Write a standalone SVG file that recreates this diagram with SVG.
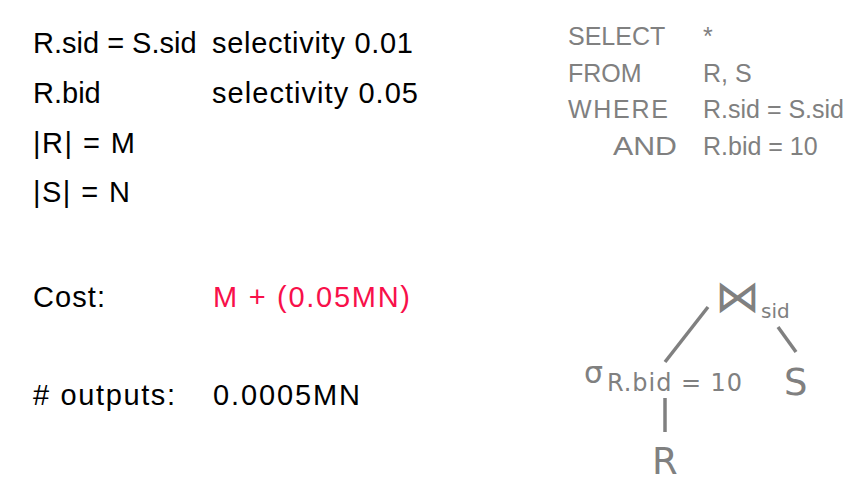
<svg xmlns="http://www.w3.org/2000/svg" width="859" height="499" viewBox="0 0 859 499">
<style>
.t{font-family:"Liberation Sans",Arial,sans-serif;font-size:29px;fill:#000}
.red{fill:#f8104a}
.q{font-family:"Liberation Sans",Arial,sans-serif;font-size:25px;fill:#808080}
.tr{font-family:"DejaVu Sans",sans-serif;fill:#808080}
.edge{stroke:#808080;stroke-width:3.5;fill:none}
</style>
<rect width="859" height="499" fill="#fff"/>
<g id="facts">
<text class="t" x="33" y="53">R.sid = S.sid</text>
<text class="t" x="212" y="53" textLength="201">selectivity 0.01</text>
<text class="t" x="33" y="103">R.bid</text>
<text class="t" x="212" y="103" textLength="206">selectivity 0.05</text>
<text class="t" x="33" y="153" textLength="102">|R| = M</text>
<text class="t" x="33" y="202" textLength="97">|S| = N</text>
<text class="t" x="33" y="307" textLength="72">Cost:</text>
<text class="t red" x="213" y="307" textLength="197">M + (0.05MN)</text>
<text class="t" x="33" y="405" textLength="142"># outputs:</text>
<text class="t" x="213" y="405" textLength="147">0.0005MN</text>
</g>
<g id="query">
<text class="q" x="568" y="45">SELECT</text>
<text class="q" x="703" y="45">*</text>
<text class="q" x="568" y="81.5">FROM</text>
<text class="q" x="703" y="81.5">R, S</text>
<text class="q" x="568" y="118" textLength="100">WHERE</text>
<text class="q" x="703" y="118">R.sid = S.sid</text>
<text class="q" x="613" y="154.5" textLength="64" lengthAdjust="spacingAndGlyphs">AND</text>
<text class="q" x="703" y="154.5">R.bid = 10</text>
</g>
<g id="connectors">
<line class="edge" x1="708" y1="307" x2="665" y2="362"/>
<line class="edge" x1="778" y1="327" x2="796" y2="352"/>
<line class="edge" x1="665" y1="398" x2="665" y2="432"/>
</g>
<g id="join">
<text class="tr" x="715" y="312" font-size="45" font-weight="200">⋈</text>
<text class="tr" x="761" y="318" font-size="20">sid</text>
</g>
<g id="select">
<text class="tr" x="584" y="383" font-size="30">σ</text>
<text class="tr" x="607" y="391" font-size="24" textLength="135">R.bid = 10</text>
</g>
<g id="S">
<text class="tr" x="784" y="395" font-size="37">S</text>
</g>
<g id="R">
<text class="tr" x="652" y="474" font-size="37">R</text>
</g>
</svg>
